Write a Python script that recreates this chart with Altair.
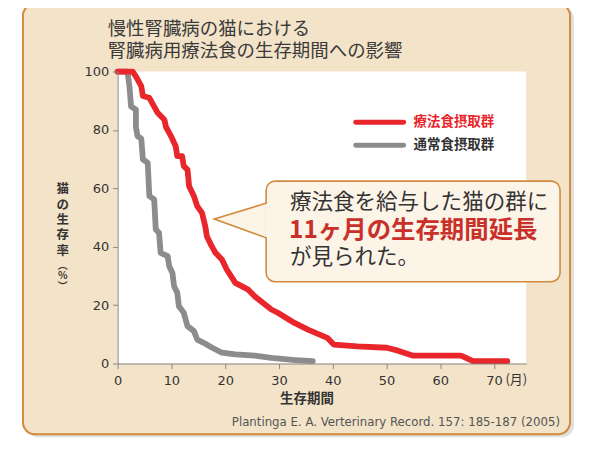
import altair as alt
import pandas as pd

# ---------------- data ----------------
red_month = [0, 2.8, 3.5, 4.4, 4.7, 5.9, 6.8, 7.4, 8.7, 9.0, 9.9, 10.8, 11.1, 12.0, 12.3, 13.0,
             13.3, 14.2, 14.8, 15.7, 16.3, 16.6, 17.5, 18.2, 19.4, 20.3, 21.9, 24.3, 25.5, 28.6,
             29.8, 32.9, 35.4, 39.0, 40.2, 44.6, 50.1, 52.0, 55.0, 63.9, 66.1, 72.5]
red_pct = [100, 100, 98, 95, 91.6, 91, 88, 86, 83.5, 81, 78, 74.4, 71, 71, 67.6, 66.4,
           60.7, 57.3, 53.9, 51.6, 47, 43.6, 40.2, 37.9, 35.6, 32.2, 27.6, 25.3, 23, 18.5,
           17.4, 13.9, 11.6, 8.8, 6.5, 5.9, 5.4, 4.5, 2.7, 2.7, 0.8, 0.8]
gray_month = [0, 1.8, 1.9, 2.2, 2.5, 3.4, 3.4, 3.7, 4.4, 4.7, 5.6, 5.9, 6.8, 7.1, 7.7, 8.0,
              9.3, 9.6, 10.2, 10.5, 11.1, 11.4, 12.3, 13.0, 14.2, 14.8, 16.0, 17.6, 19.4, 21.9,
              25.5, 28.6, 33.0, 36.3]
gray_pct = [100, 100, 99, 95, 88, 87, 81, 77.9, 77, 69.9, 68.7, 57.3, 56.2, 45.9, 44.8, 37.9,
            36.8, 33.3, 31, 26.5, 24.2, 19.6, 17.4, 12.8, 11.1, 8.2, 7.1, 5.4, 3.7, 3.1,
            2.7, 1.9, 1.2, 0.8]
groups = ["療法食摂取群", "通常食摂取群"]
x_ticks = [0, 10, 20, 30, 40, 50, 60, 70]
y_ticks = [0, 20, 40, 60, 80, 100]
title_lines = ["慢性腎臓病の猫における", "腎臓病用療法食の生存期間への影響"]
callout_lines = ["療法食を給与した猫の群に", "11ヶ月の生存期間延長", "が見られた。"]
y_title = ["猫", "の", "生", "存", "率"]
y_unit = ["︵", "%", "︶"]
x_title = "生存期間"
x_unit = "(月)"
source = "Plantinga E. A.  Verterinary Record. 157: 185-187 (2005)"

# ---------------- styles ----------------
W, H = 410, 293
X_MAX = 76
RED = "#e8262c"
GRAY = "#8c8c8c"
BEIGE = "#f3e3c8"
ORANGE = "#d08b3e"
JP = "Noto Sans CJK JP"
NUM = "DejaVu Sans"

curve = pd.DataFrame({
    "group": [groups[0]] * len(red_month) + [groups[1]] * len(gray_month),
    "month": red_month + gray_month,
    "pct": red_pct + gray_pct,
    "idx": list(range(len(red_month))) + list(range(len(gray_month))),
})

one = pd.DataFrame({"k": [0]})
color_scale = alt.Scale(domain=groups, range=[RED, GRAY])

# frame
shadow = alt.Chart(one).mark_rect(cornerRadius=12, fill="#000000", opacity=0.12).encode(
    x=alt.value(-92), x2=alt.value(458), y=alt.value(-65), y2=alt.value(367))
frame = alt.Chart(one).mark_rect(cornerRadius=12, fill=BEIGE, stroke=ORANGE, strokeWidth=2).encode(
    x=alt.value(-95), x2=alt.value(454), y=alt.value(-68), y2=alt.value(364))
plot_bg = alt.Chart(one).mark_rect(fill="white").encode(
    x=alt.value(0), x2=alt.value(W), y=alt.value(0), y2=alt.value(H))

base = alt.Chart(curve).mark_line(strokeWidth=5.8, strokeJoin="round", strokeCap="round").encode(
    x=alt.X("month:Q", scale=alt.Scale(domain=[0, X_MAX], nice=False),
            axis=alt.Axis(values=x_ticks, title=None, labelFont=NUM, labelFontSize=13,
                          labelColor="#333333", tickColor="#888888", domainColor="#888888",
                          tickSize=5, labelPadding=6, grid=False, zindex=1, labelFlush=False)),
    y=alt.Y("pct:Q", scale=alt.Scale(domain=[0, 100], nice=False),
            axis=alt.Axis(values=y_ticks, title=None, labelFont=NUM, labelFontSize=13,
                          labelColor="#333333", tickColor="#888888", domainColor="#888888",
                          tickSize=5, labelPadding=4, grid=False, zindex=1)),
    color=alt.Color("group:N", scale=color_scale, legend=None),
    order="idx:Q",
)
gray_line = base.transform_filter(alt.datum.group == groups[1])
red_line = base.transform_filter(alt.datum.group == groups[0])

# legend
leg_red = alt.Chart(one).mark_rule(strokeWidth=5, strokeCap="round", color=RED).encode(
    x=alt.value(239), x2=alt.value(287), y=alt.value(51))
leg_gray = alt.Chart(one).mark_rule(strokeWidth=5, strokeCap="round", color=GRAY).encode(
    x=alt.value(239), x2=alt.value(287), y=alt.value(74))
leg_red_t = alt.Chart(one).mark_text(font=JP, fontSize=13.5, fontWeight="bold", color=RED,
                                     align="left", baseline="middle", text=groups[0]).encode(
    x=alt.value(297), y=alt.value(51))
leg_gray_t = alt.Chart(one).mark_text(font=JP, fontSize=13.5, fontWeight="bold", color="#333333",
                                      align="left", baseline="middle", text=groups[1]).encode(
    x=alt.value(297), y=alt.value(74))

# callout
box = alt.Chart(one).mark_rect(cornerRadius=9, fill="#fdf4e8", stroke=ORANGE, strokeWidth=1.6).encode(
    x=alt.value(149), x2=alt.value(444), y=alt.value(110), y2=alt.value(211))
tri = pd.DataFrame({"px": [97, 149.5], "py": [148, 132], "py2": [148, 167]})
pointer = alt.Chart(tri).mark_area(fill="#fdf4e8", stroke=ORANGE, strokeWidth=1.6,
                                   strokeJoin="miter").encode(
    x=alt.X("px:Q", scale=None, axis=None),
    y=alt.Y("py:Q", scale=None, axis=None),
    y2="py2:Q",
)
cover = alt.Chart(one).mark_rect(fill="#fdf4e8").encode(
    x=alt.value(148), x2=alt.value(152), y=alt.value(133), y2=alt.value(166))
c1 = alt.Chart(one).mark_text(font=JP, fontSize=21.6, color="#333333", align="left",
                              baseline="middle", text=callout_lines[0]).encode(
    x=alt.value(173), y=alt.value(132))
c2 = alt.Chart(one).mark_text(font=JP, fontSize=24.5, fontWeight="bold", color="#c8302a", align="left",
                              baseline="middle", text=callout_lines[1]).encode(
    x=alt.value(172), y=alt.value(160))
c3 = alt.Chart(one).mark_text(font=JP, fontSize=21.6, color="#333333", align="left",
                              baseline="middle", text=callout_lines[2]).encode(
    x=alt.value(173), y=alt.value(187))

# titles and texts
t1 = alt.Chart(one).mark_text(font=JP, fontSize=18.5, color="#3a3a3a", align="left",
                              baseline="middle", text=title_lines[0]).encode(
    x=alt.value(-10), y=alt.value(-43))
t2 = alt.Chart(one).mark_text(font=JP, fontSize=18.5, color="#3a3a3a", align="left",
                              baseline="middle", text=title_lines[1]).encode(
    x=alt.value(-10), y=alt.value(-21))
yt = alt.Chart(one).mark_text(font=JP, fontSize=12.5, fontWeight="bold", color="#333333",
                              align="center", baseline="top",
                              lineHeight=15.5, text=y_title).encode(
    x=alt.value(-55), y=alt.value(112))
yu = alt.Chart(one).mark_text(font=JP, fontSize=10, fontWeight="bold", color="#333333",
                              align="center", baseline="top",
                              lineHeight=10.5, text=y_unit).encode(
    x=alt.value(-55), y=alt.value(190))
xt = alt.Chart(one).mark_text(font=JP, fontSize=13.5, fontWeight="bold", color="#333333",
                              align="center", baseline="middle", text=x_title).encode(
    x=alt.value(190), y=alt.value(329))
xu = alt.Chart(one).mark_text(font=JP, fontSize=13, color="#333333",
                              align="center", baseline="middle", text=x_unit).encode(
    x=alt.value(400), y=alt.value(310))
src = alt.Chart(one).mark_text(font=NUM, fontSize=11.8, color="#555555",
                               align="right", baseline="middle", text=source).encode(
    x=alt.value(444), y=alt.value(352))

chart = alt.layer(
    shadow, frame, plot_bg, gray_line, red_line,
    leg_red, leg_gray, leg_red_t, leg_gray_t,
    pointer, box, cover, c1, c2, c3,
    t1, t2, yt, yu, xt, xu, src,
).properties(
    width=W, height=H,
    autosize=alt.AutoSizeParams(type="none"),
    padding={"left": 110, "top": 63, "right": 55, "bottom": 80},
    background="white",
).configure_view(strokeWidth=0)

chart.save("out.html", embed_options={"renderer": "svg", "actions": False})
